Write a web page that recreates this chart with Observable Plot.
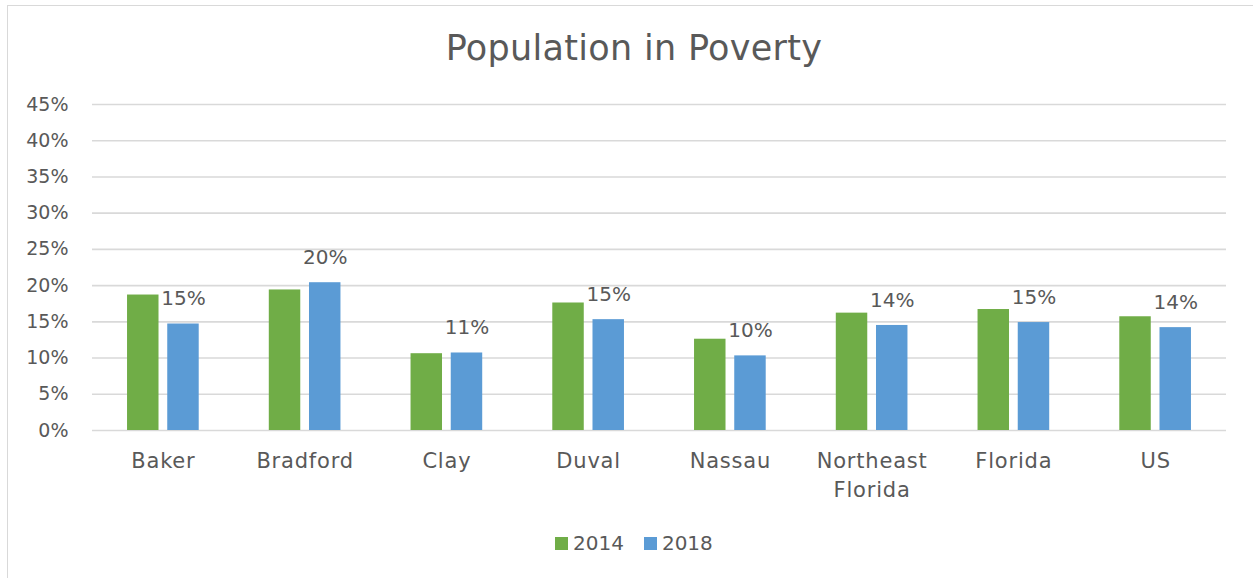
<!DOCTYPE html>
<html>
<head>
<meta charset="utf-8">
<script src="https://cdn.jsdelivr.net/npm/d3@7"></script>
<script src="https://cdn.jsdelivr.net/npm/@observablehq/plot@0.6"></script>
<style>
  html, body { margin: 0; padding: 0; background: #fff; overflow: hidden; }
  body { width: 1253px; height: 578px; position: relative; font-family: "DejaVu Sans", sans-serif; color: #595959; }
  #frame { position: absolute; left: 7px; top: 5px; width: 1300px; height: 620px; border: 1px solid #d9d9d9; box-sizing: border-box; }
  #title { position: absolute; left: 0; top: 27px; width: 1268px; text-align: center; font-size: 35px; letter-spacing: 0.3px; line-height: 42px; }
  #chart { position: absolute; left: 0; top: 80px; }
  #chart g[aria-label="x-axis tick label"] text { letter-spacing: 0.8px; }
  #legend { position: absolute; top: 531px; left: 555px; display: flex; align-items: center; font-size: 20px; line-height: 24px; }
  .sw { display: inline-block; width: 13px; height: 13px; margin-right: 5px; }
  .item { display: flex; align-items: center; margin-right: 20px; }
</style>
</head>
<body>
<div id="frame"></div>
<div id="title">Population in Poverty</div>
<div id="chart"></div>
<div id="legend"></div>
<script>
const categories = ["Baker", "Bradford", "Clay", "Duval", "Nassau", "Northeast\nFlorida", "Florida", "US"];
const years = ["2014", "2018"];
const values2014 = [0.187, 0.194, 0.106, 0.176, 0.126, 0.162, 0.167, 0.157];
const values2018 = [0.147, 0.204, 0.107, 0.153, 0.103, 0.145, 0.149, 0.142];
const yTicks = [0, 0.05, 0.10, 0.15, 0.20, 0.25, 0.30, 0.35, 0.40, 0.45];
const colors = ["#70AD47", "#5B9BD5"];

const rows2014 = categories.map((c, i) => ({category: c, year: years[0], value: values2014[i]}));
const rows2018 = categories.map((c, i) => ({category: c, year: years[1], value: values2018[i]}));

const offset = 20.1; // half the distance between paired bar centres

const chart = Plot.plot({
  width: 1253,
  height: 430,
  marginTop: 24,
  marginBottom: 80,
  marginLeft: 92,
  marginRight: 27,
  style: {fontFamily: "DejaVu Sans, sans-serif", color: "#595959", background: "transparent"},
  x: {domain: categories, paddingInner: 0.778, paddingOuter: 0.389, round: false, label: null},
  y: {domain: [0, 0.45], ticks: yTicks, label: null},
  color: {domain: years, range: colors},
  marks: [
    Plot.ruleY(yTicks, {stroke: "#d9d9d9", strokeWidth: 1.6}),
    Plot.axisY({ticks: yTicks, tickFormat: d3.format(".0%"), tickSize: 0, tickPadding: 24, fontSize: 19, fill: "#595959", label: null}),
    Plot.axisX({tickSize: 0, tickPadding: 17, fontSize: 21, fill: "#595959", lineHeight: 1.38, label: null, textOverflow: null}),
    Plot.barY(rows2014, {x: "category", y: "value", fill: "year", dx: -offset}),
    Plot.barY(rows2018, {x: "category", y: "value", fill: "year", dx: offset}),
    Plot.text(rows2018, {x: "category", y: "value", text: d => d3.format(".0%")(d.value), dx: offset, dy: -25, fontSize: 20, fill: "#595959"})
  ]
});
document.getElementById("chart").appendChild(chart);

const legend = document.getElementById("legend");
years.forEach((y, i) => {
  const item = document.createElement("div");
  item.className = "item";
  const sw = document.createElement("span");
  sw.className = "sw";
  sw.style.background = colors[i];
  item.appendChild(sw);
  const t = document.createElement("span");
  t.textContent = y;
  item.appendChild(t);
  legend.appendChild(item);
});
</script>
</body>
</html>
